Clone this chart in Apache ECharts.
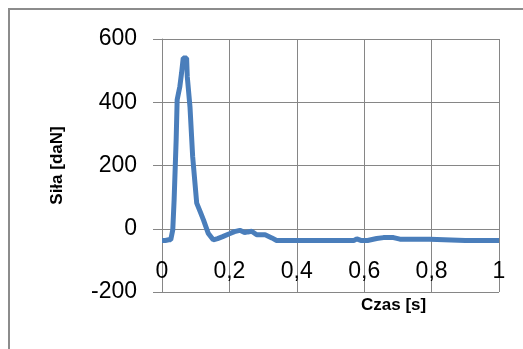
<!DOCTYPE html>
<html>
<head>
<meta charset="utf-8">
<script src="https://cdn.jsdelivr.net/npm/echarts@6/dist/echarts.min.js"></script>
<style>
  html, body { margin: 0; padding: 0; background: #fff; }
  #chart { width: 523px; height: 349px; }
</style>
</head>
<body>
<div id="chart"></div>
<script>
// czas [s] i siła [daN]
const czas = [0, 0.01, 0.02, 0.026, 0.032, 0.036, 0.042, 0.045, 0.053, 0.058, 0.063, 0.068,
  0.073, 0.075, 0.083, 0.091, 0.103, 0.113, 0.123, 0.137, 0.152, 0.165, 0.18, 0.2, 0.215,
  0.231, 0.245, 0.255, 0.266, 0.281, 0.306, 0.326, 0.34, 0.45, 0.57, 0.578, 0.59, 0.61,
  0.637, 0.657, 0.687, 0.706, 0.795, 0.8, 0.9, 1.0]
const sila = [-37, -37, -35, -35, -3, 92, 281, 408, 450, 492, 540, 545,
  540, 481, 386, 228, 81, 55, 28, -14, -35, -31, -25, -16, -9,
  -5, -12, -10, -8, -19, -19, -29, -37, -37, -37, -32, -37, -37,
  -31, -28, -28, -33, -33, -37, -37, -37]
const yTicks = [-200, 0, 200, 400, 600]

const dane = czas.map((t, i) => [t, sila[i]])

const chart = echarts.init(document.getElementById('chart'))
chart.setOption({
  animation: false,
  grid: { left: 162, right: 24, top: 39, bottom: 57 },
  xAxis: {
    type: 'value',
    min: 0, max: 1, interval: 0.2,
    axisLine: { onZero: true, lineStyle: { color: '#868686', width: 1 } },
    axisTick: { show: false },
    axisLabel: {
      margin: -32,
      fontFamily: 'Liberation Sans', fontSize: 23, color: '#000',
      formatter: v => String(+v.toFixed(1)).replace('.', ',')
    },
    splitLine: { show: true, lineStyle: { color: '#868686', width: 1 } }
  },
  yAxis: {
    type: 'value',
    min: yTicks[0], max: yTicks[yTicks.length - 1], interval: 200,
    name: 'Siła [daN]',
    nameLocation: 'middle',
    nameGap: 96,
    nameTextStyle: { fontFamily: 'Liberation Sans', fontWeight: 'bold', fontSize: 17, color: '#000' },
    axisLine: { show: true, lineStyle: { color: '#868686', width: 1 } },
    axisTick: { show: true, length: 9, lineStyle: { color: '#868686' } },
    axisLabel: { margin: 25, fontFamily: 'Liberation Sans', fontSize: 23, color: '#000' },
    splitLine: { show: true, lineStyle: { color: '#868686', width: 1 } }
  },
  graphic: [
    {
      type: 'rect',
      shape: { x: 9, y: 9, width: 700, height: 500 },
      style: { fill: 'none', stroke: '#8c8c8c', lineWidth: 2 },
      silent: true
    },
    {
      type: 'text',
      left: 361, top: 297,
      style: { text: 'Czas [s]', font: 'bold 17px "Liberation Sans"', fill: '#000' }
    }
  ],
  series: [{
    type: 'line',
    data: dane,
    showSymbol: false,
    lineStyle: { color: '#4a7ebb', width: 5 },
    itemStyle: { color: '#4a7ebb' }
  }]
})
</script>
</body>
</html>
